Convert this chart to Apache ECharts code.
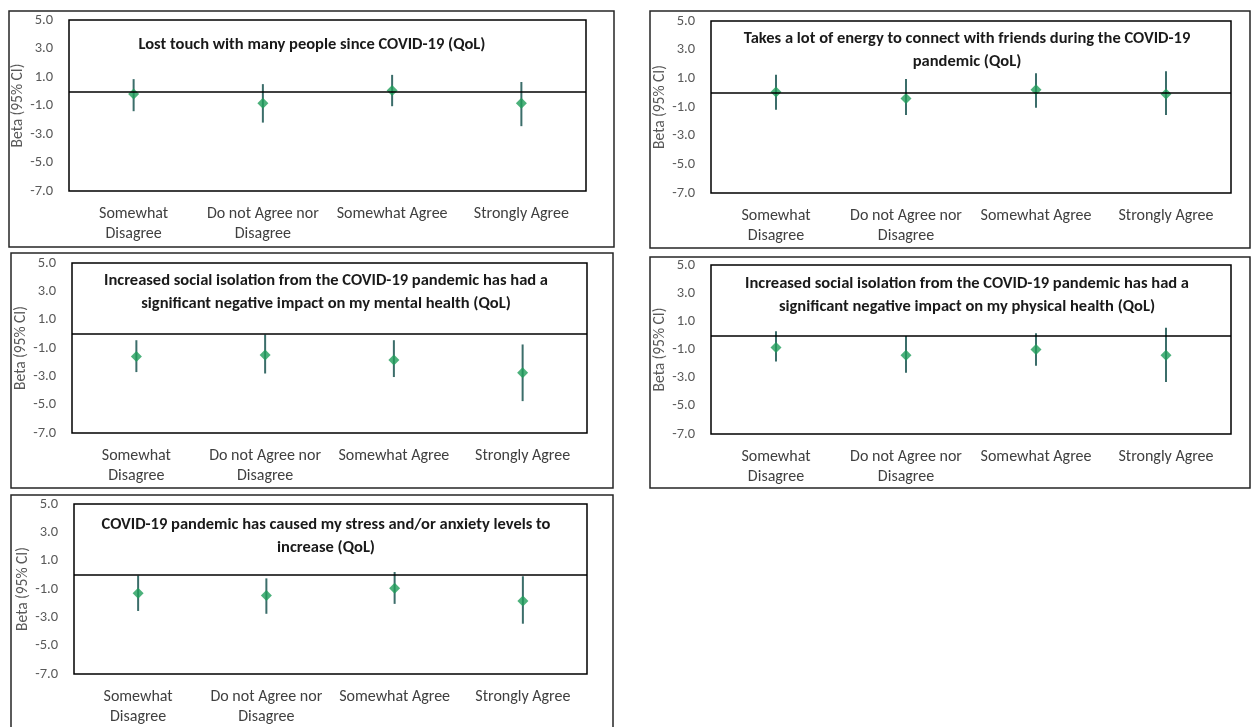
<!DOCTYPE html>
<html>
<head>
<meta charset="utf-8">
<title>QoL regression estimates</title>
<script src="https://cdn.jsdelivr.net/npm/echarts@6/dist/echarts.min.js"></script>
<style>
  html, body { margin: 0; padding: 0; background: #fff; width: 1252px; height: 727px; overflow: hidden; }
  #chart { position: absolute; left: 0; top: 0; width: 1252px; height: 727px; }
</style>
</head>
<body>
<div id="chart"></div>
<script>
// Response levels (reference: Strongly Disagree)
const categories = ['Somewhat\nDisagree', 'Do not Agree nor\nDisagree', 'Somewhat Agree', 'Strongly Agree'];

// Y axis tick labels
const yTicks = [-7, -5, -3, -1, 1, 3, 5];

const titles = [
  'Lost touch with many people since COVID-19 (QoL)',
  'Takes a lot of energy to connect with friends during the COVID-19\npandemic (QoL)',
  'Increased social isolation from the COVID-19 pandemic has had a\nsignificant negative impact on my mental health (QoL)',
  'Increased social isolation from the COVID-19 pandemic has had a\nsignificant negative impact on my physical health (QoL)',
  'COVID-19 pandemic has caused my stress and/or anxiety levels to\nincrease (QoL)'
];

// Beta estimates with 95% CI bounds, one set per item
const lostTouchBeta  = [-0.2, -0.85, 0.05, -0.85];
const lostTouchLower = [-1.4, -2.2, -1.05, -2.45];
const lostTouchUpper = [0.85, 0.5, 1.15, 0.65];

const energyBeta  = [0.05, -0.4, 0.2, -0.1];
const energyLower = [-1.2, -1.55, -1.05, -1.55];
const energyUpper = [1.25, 0.95, 1.35, 1.5];

const mentalBeta  = [-1.6, -1.5, -1.85, -2.75];
const mentalLower = [-2.7, -2.8, -3.05, -4.75];
const mentalUpper = [-0.45, -0.05, -0.45, -0.75];

const physicalBeta  = [-0.85, -1.4, -1.0, -1.4];
const physicalLower = [-1.85, -2.65, -2.15, -3.3];
const physicalUpper = [0.3, -0.05, 0.15, 0.55];

const stressBeta  = [-1.3, -1.45, -0.95, -1.85];
const stressLower = [-2.55, -2.75, -2.05, -3.45];
const stressUpper = [-0.05, -0.25, 0.2, -0.1];

const panelData = [
  [lostTouchBeta, lostTouchLower, lostTouchUpper],
  [energyBeta, energyLower, energyUpper],
  [mentalBeta, mentalLower, mentalUpper],
  [physicalBeta, physicalLower, physicalUpper],
  [stressBeta, stressLower, stressUpper]
];

// Panel layout: outer frame, plot area [left, top, right, bottom], title anchor
const layout = [
  { box: [9, 11, 614, 247],   plot: [69, 20, 586, 191],   title: [312, 45] },
  { box: [650, 11, 1250, 248], plot: [711, 21, 1231, 193], title: [967, 50] },
  { box: [11, 253, 613, 488], plot: [72, 263, 587, 433],  title: [326, 292] },
  { box: [650, 257, 1250, 488], plot: [711, 265, 1231, 434], title: [967, 295] },
  { box: [11, 495, 613, 745], plot: [74, 504, 587, 677],  title: [326, 536] }
];

const FONT = 'Carlito, Calibri, Lato, sans-serif';
const MARKER = '#1f9e5a';
const WHISKER = '#3b6d6a';

const grids = [], xAxes = [], yAxes = [], series = [], graphics = [];

layout.forEach((p, i) => {
  const [pl, pt, pr, pb] = p.plot;
  grids.push({
    left: pl, top: pt, width: pr - pl, height: pb - pt,
    show: true, borderColor: '#000', borderWidth: 1.5, backgroundColor: 'transparent',
    containLabel: false
  });
  xAxes.push({
    type: 'category', gridIndex: i, data: categories, boundaryGap: true,
    axisLine: { show: false }, axisTick: { show: false }, splitLine: { show: false },
    axisLabel: { interval: 0, margin: 13, fontFamily: FONT, fontSize: 16, lineHeight: 20, color: '#404040' }
  });
  yAxes.push({
    type: 'value', gridIndex: i, min: -7, max: 5, interval: 2,
    name: 'Beta (95% CI)', nameLocation: 'middle', nameRotate: 90, nameGap: 35,
    nameTextStyle: { fontFamily: FONT, fontSize: 15.5, color: '#595959' },
    axisLine: { show: false }, axisTick: { show: false }, splitLine: { show: false },
    axisLabel: {
      customValues: yTicks, margin: 16, fontFamily: FONT, fontSize: 14.5, color: '#595959',
      formatter: v => v.toFixed(1)
    }
  });

  const [beta, lower, upper] = panelData[i];
  series.push({
    type: 'custom', xAxisIndex: i, yAxisIndex: i, silent: true, z: 2,
    data: categories.map((c, k) => [k, lower[k], upper[k]]),
    renderItem: (params, api) => {
      const lo = api.coord([api.value(0), api.value(1)]);
      const hi = api.coord([api.value(0), api.value(2)]);
      return {
        type: 'line',
        shape: { x1: lo[0], y1: lo[1], x2: hi[0], y2: hi[1] },
        style: { stroke: WHISKER, lineWidth: 2 }
      };
    }
  });
  series.push({
    type: 'scatter', xAxisIndex: i, yAxisIndex: i, silent: true, z: 3,
    data: beta, symbol: 'diamond', symbolSize: 11,
    itemStyle: { color: MARKER },
    markLine: {
      silent: true, symbol: 'none', label: { show: false },
      lineStyle: { color: '#000', width: 1.5, type: 'solid' },
      data: [{ yAxis: 0 }]
    }
  });

  const [bl, bt, br, bb] = p.box;
  graphics.push({
    type: 'rect', silent: true, z: -1,
    shape: { x: bl, y: bt, width: br - bl, height: bb - bt },
    style: { fill: 'none', stroke: '#262626', lineWidth: 1.5 }
  });
  graphics.push({
    type: 'text', silent: true, x: p.title[0], y: p.title[1],
    style: {
      text: titles[i], align: 'center', verticalAlign: 'middle',
      font: 'bold 16.5px ' + FONT, lineHeight: 23, fill: '#1a1a1a'
    }
  });
});

const chart = echarts.init(document.getElementById('chart'), null, { renderer: 'canvas' });
chart.setOption({
  backgroundColor: '#fff',
  animation: false,
  grid: grids,
  xAxis: xAxes,
  yAxis: yAxes,
  series: series,
  graphic: graphics
});
</script>
</body>
</html>
